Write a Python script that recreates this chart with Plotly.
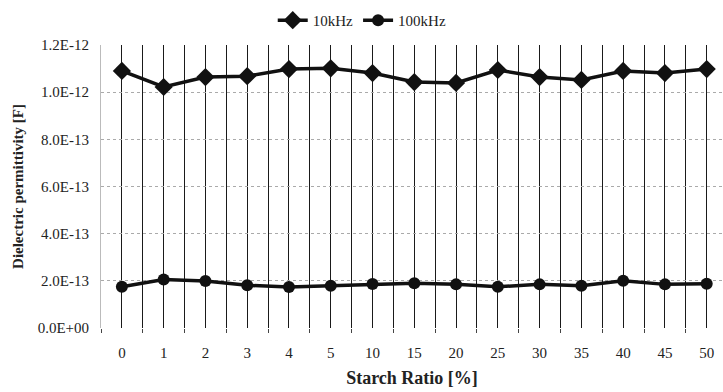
import plotly.graph_objects as go

categories = ["0", "1", "2", "3", "4", "5", "10", "15", "20", "25", "30", "35", "40", "45", "50"]
v10k = [1.090e-12, 1.022e-12, 1.064e-12, 1.068e-12, 1.098e-12, 1.101e-12, 1.081e-12, 1.043e-12,
        1.039e-12, 1.094e-12, 1.064e-12, 1.052e-12, 1.090e-12, 1.081e-12, 1.098e-12]
v100k = [1.75e-13, 2.06e-13, 1.99e-13, 1.81e-13, 1.74e-13, 1.79e-13, 1.87e-13, 1.90e-13,
         1.85e-13, 1.75e-13, 1.85e-13, 1.79e-13, 2.00e-13, 1.85e-13, 1.88e-13]
y_tickvals = [0, 2e-13, 4e-13, 6e-13, 8e-13, 1.0e-12, 1.2e-12]
y_ticktext = ["0.0E+00", "2.0E-13", "4.0E-13", "6.0E-13", "8.0E-13", "1.0E-12", "1.2E-12"]

xi = list(range(len(categories)))
font = "Liberation Serif"

fig = go.Figure()
fig.add_trace(go.Scatter(x=xi, y=v10k, name="10kHz", mode="lines+markers",
                         line=dict(color="#111111", width=3.5),
                         marker=dict(symbol="diamond", size=14, color="#111111")))
fig.add_trace(go.Scatter(x=xi, y=v100k, name="100kHz", mode="lines+markers",
                         line=dict(color="#111111", width=3.5),
                         marker=dict(symbol="circle", size=12, color="#111111")))

fig.update_layout(
    width=723, height=392,
    margin=dict(l=101, r=0, t=45, b=64),
    paper_bgcolor="white", plot_bgcolor="white",
    font=dict(family=font, size=15, color="#222222"),
    showlegend=True,
    legend=dict(orientation="h", x=0.42, xanchor="center", y=0.99, yanchor="top",
                yref="container", font=dict(family=font, size=15, color="#222222"),
                itemwidth=30, tracegroupgap=0),
)

fig.update_xaxes(
    range=[-0.5, 14.39],
    tickmode="array", tickvals=xi, ticktext=categories,
    showgrid=True, gridcolor="#1a1a1a", gridwidth=1,
    ticks="", ticklen=0, ticklabelstandoff=14,
    tickfont=dict(family=font, size=15, color="#222222"),
    minor=dict(tickmode="array", tickvals=[i + 0.5 for i in xi[:-1]] + [-0.5],
               showgrid=True, gridcolor="#1a1a1a", gridwidth=1,
               ticks="outside", ticklen=4, tickcolor="#444444"),
    zeroline=False, showline=False,
    title=dict(text="<b>Starch Ratio [%]</b>", font=dict(family=font, size=18, color="#222222"), standoff=11),
)
fig.update_yaxes(
    range=[0, 1.2e-12],
    tickmode="array", tickvals=y_tickvals, ticktext=y_ticktext,
    showgrid=True, gridcolor="#aaaaaa", griddash="dot", gridwidth=1,
    zeroline=False, showline=True, linecolor="#bbbbbb", linewidth=1,
    ticks="", ticklabelstandoff=8, tickfont=dict(family=font, size=15, color="#222222"),
    title=dict(text="<b>Dielectric permittivity [F]</b>", font=dict(family=font, size=15, color="#222222"), standoff=10),
)

fig.write_html("out.html")
